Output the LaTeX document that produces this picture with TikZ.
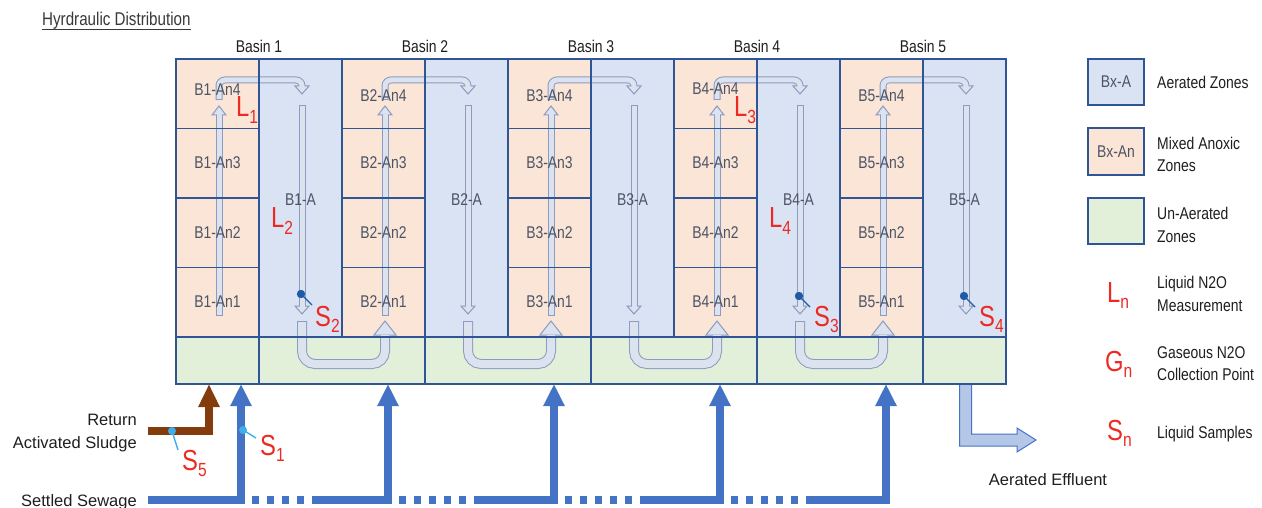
\documentclass[tikz,border=0pt]{standalone}
\usepackage{fontspec}
\setmainfont{Liberation Sans}[FakeStretch=0.82]
\newfontfamily\widesans{Liberation Sans}
\usetikzlibrary{arrows.meta}

\definecolor{anoxfill}{HTML}{FBE5D6}
\definecolor{aerfill}{HTML}{DAE3F3}
\definecolor{unaerfill}{HTML}{E2F0D9}
\definecolor{framecol}{HTML}{2F5597}
\definecolor{celltext}{HTML}{4C5466}
\definecolor{flowline}{HTML}{8A9CC2}
\definecolor{flowfill}{HTML}{DCE3EF}
\definecolor{feedblue}{HTML}{4472C4}
\definecolor{rasbrown}{HTML}{843C0C}
\definecolor{efflfill}{HTML}{B4C7E7}
\definecolor{labred}{HTML}{EC2A22}
\definecolor{probedark}{HTML}{1F5AA6}
\definecolor{probelight}{HTML}{3DAEE9}
\definecolor{inktext}{HTML}{1E1E1E}
\definecolor{titlegray}{HTML}{383838}

% sampling / measurement tag: big letter with a lowered index
\newcommand\probetag[2]{{\fontsize{29}{29}\selectfont #1}\raisebox{-6.5pt}{\fontsize{19}{19}\selectfont #2}}

\tikzset{
  zoneline/.style={draw=framecol, line width=1.8pt},
  celllab/.style={text=celltext, font=\fontsize{17}{20}\selectfont, inner sep=0pt},
  basinlab/.style={text=inktext, font=\fontsize{17}{20}\selectfont, inner sep=0pt, anchor=base},
  legtext/.style={text=inktext, font=\fontsize{17}{20}\selectfont, inner sep=0pt, anchor=base west},
  sidetext/.style={text=inktext, font=\widesans\fontsize{16.5}{20}\selectfont, inner sep=0pt},
  redtag/.style={text=labred, inner sep=0pt, anchor=base west},
  flowout/.style={draw=flowline, line width=#1, shorten <=-1pt},
  flowin/.style={draw=flowfill, line width=#1},
  flowhead/.style={fill=flowfill, draw=flowline, line width=1pt, line join=miter},
  feed/.style={draw=feedblue, line width=7.5pt},
  feedarrow/.style={feed, line join=miter, -{Triangle[width=20pt,length=22pt]}},
  rasarrow/.style={draw=rasbrown, line width=8pt, line join=miter, -{Triangle[width=20pt,length=23pt]}},
  probeline/.style={line width=1.4pt},
}

\begin{document}
\begin{tikzpicture}[x=1pt, y=-1pt, font=\fontsize{17}{20}\selectfont]
\useasboundingbox (0,0) rectangle (1262,508);

% ---------- zone fills ----------
\foreach \k in {0,...,4}{
  \pgfmathsetmacro\bx{176+166*\k}
  \fill[anoxfill] (\bx,59) rectangle (\bx+83,337);
  \fill[aerfill] (\bx+83,59) rectangle (\bx+166,337);
}
\fill[unaerfill] (176,337) rectangle (1006,384);

% ---------- internal flow path (hollow arrows) ----------
\foreach \k in {0,...,4}{
  \pgfmathsetmacro\ax{219+166*\k}
  \pgfmathsetmacro\rx{302+166*\k}
  % rise through the anoxic cells
  \draw[flowout=7pt] (\ax,315) -- (\ax,114);
  \draw[flowhead] (\ax-7,115) -- (\ax+7,115) -- (\ax,106) -- cycle;
  \draw[flowin=5pt] (\ax,315) -- (\ax,114);
  % crossover into the aerated lane
  \draw[flowout=7pt, rounded corners=6pt] (\ax,99) -- (\ax,80) -- (\rx,80) -- (\rx,87);
  \draw[flowhead] (\rx-7,86) -- (\rx+7,86) -- (\rx,94) -- cycle;
  \draw[flowin=5pt, rounded corners=6pt] (\ax,99) -- (\ax,80) -- (\rx,80) -- (\rx,87);
  % descent through the aerated lane
  \draw[flowout=7pt] (\rx,106) -- (\rx,307);
  \draw[flowhead] (\rx-7,306) -- (\rx+7,306) -- (\rx,314) -- cycle;
  \draw[flowin=5pt] (\rx,106) -- (\rx,307);
  % transfer under the wall to the next basin
  \ifnum\k<4
    \pgfmathsetmacro\nx{\ax+166}
    \draw[flowout=10pt, rounded corners=13pt] (\rx,322) -- (\rx,364) -- (\nx,364) -- (\nx,336);
    \draw[flowhead] (\nx-11,335) -- (\nx+11,335) -- (\nx,321) -- cycle;
    \draw[flowin=8pt, rounded corners=13pt] (\rx,322) -- (\rx,364) -- (\nx,364) -- (\nx,335);
  \fi
}

% ---------- effluent ----------
\draw[draw=feedblue, fill=efflfill, line width=1pt, line join=miter]
  (959.5,384) -- (959.5,446) -- (1017,446) -- (1017,452) -- (1036,440)
  -- (1017,428) -- (1017,434) -- (971.5,434) -- (971.5,384) -- cycle;

% ---------- zone borders ----------
\draw[zoneline] (176,59) rectangle (1006,384);
\draw[zoneline] (176,337) -- (1006,337);
\foreach \k in {0,...,4}{
  \pgfmathsetmacro\bx{176+166*\k}
  \draw[zoneline] (\bx+83,59) -- (\bx+83,384);
  \ifnum\k>0 \draw[zoneline] (\bx,59) -- (\bx,337); \fi
  \foreach \yy in {128.5,198,267.5} \draw[zoneline] (\bx,\yy) -- (\bx+83,\yy);
}

% ---------- zone labels ----------
\foreach \k/\yt in {0/90,1/96,2/96,3/89,4/96}{
  \pgfmathtruncatemacro\n{\k+1}
  \pgfmathsetmacro\cx{217.5+166*\k}
  \node[celllab] (anfour\n) at (\cx,\yt) {B\n-An4};
  \node[celllab] (anthree\n) at (\cx,163) {B\n-An3};
  \node[celllab] (antwo\n) at (\cx,232.5) {B\n-An2};
  \node[celllab] (anone\n) at (\cx,302) {B\n-An1};
  \node[celllab] (aer\n) at (\cx+83,200) {B\n-A};
  \node[basinlab] (basin\n) at (\cx+41.5,53) {Basin \n};
}

% ---------- title ----------
\node[text=titlegray, font=\fontsize{18.5}{22}\selectfont, anchor=base west, inner sep=0pt] (title) at (42,26) {Hyrdraulic Distribution};
\draw[titlegray, line width=0.9pt] ([yshift=-3.5pt]title.base west) -- ([yshift=-3.5pt]title.base east);

% ---------- influent lines ----------
\draw[rasarrow] (148,431) -- (209,431) -- (209,384);
\draw[feedarrow] (148,500) -- (241,500) -- (241,384);
\draw[feed, dash pattern=on 7pt off 8pt] (252,500) -- (313,500);
\foreach \k in {1,...,4}{
  \pgfmathsetmacro\fx{388+166*(\k-1)}
  \draw[feedarrow] (\fx-75,500) -- (\fx,500) -- (\fx,384);
  \ifnum\k<4 \draw[feed, dash pattern=on 7pt off 8pt] (\fx+11,500) -- (\fx+91,500); \fi
}

\node[sidetext, anchor=base east] (ret) at (137,425) {Return};
\node[sidetext, anchor=base east] (ras) at (137,448) {Activated Sludge};
\node[sidetext, anchor=base east] (sew) at (137,506) {Settled Sewage};
\node[sidetext, anchor=base] (eff) at (1048,485) {Aerated Effluent};

% ---------- probes ----------
\coordinate (ptwo) at (301,294);
\coordinate (pthree) at (799,296);
\coordinate (pfour) at (964,296);
\coordinate (pone) at (243,430);
\coordinate (pfive) at (172,431);
\foreach \p in {ptwo,pthree,pfour}{
  \fill[probedark] (\p) circle (4.2pt);
  \draw[probedark, probeline] (\p) -- ++(11,11);
}
\fill[probelight] (pone) circle (4pt);
\draw[probelight, probeline] (pone) -- ++(13,8);
\fill[probelight] (pfive) circle (4pt);
\draw[probelight, probeline] (pfive) -- ++(6,19);

% ---------- measurement tags ----------
\node[redtag] (Lone) at (236,117) {\probetag{L}{1}};
\node[redtag] (Ltwo) at (271,228) {\probetag{L}{2}};
\node[redtag] (Stwo) at (315,326) {\probetag{S}{2}};
\node[redtag] (Lthree) at (734,117) {\probetag{L}{3}};
\node[redtag] (Lfour) at (769,228) {\probetag{L}{4}};
\node[redtag] (Sthree) at (814,326) {\probetag{S}{3}};
\node[redtag] (Sfour) at (979,326) {\probetag{S}{4}};
\node[redtag] (Sone) at (260,455) {\probetag{S}{1}};
\node[redtag] (Sfive) at (182,470) {\probetag{S}{5}};

% ---------- legend ----------
\draw[zoneline, fill=aerfill] (1088,59) rectangle (1144,105);
\node[celllab] (legA) at (1116,82) {Bx-A};
\draw[zoneline, fill=anoxfill] (1088,128) rectangle (1144,175);
\node[celllab] (legAn) at (1116,151.5) {Bx-An};
\draw[zoneline, fill=unaerfill] (1088,198) rectangle (1144,244);

\node[legtext] (legAt) at (1157,89) {Aerated Zones};
\node[legtext] (legAnt) at (1157,150) {Mixed Anoxic};
\node[legtext] (legAnz) at (1157,172) {Zones};
\node[legtext] (legUt) at (1157,219) {Un-Aerated};
\node[legtext] (legUz) at (1157,242) {Zones};

\node[redtag] (legL) at (1107,302) {\probetag{L}{n}};
\node[legtext] (legLt) at (1157,288) {Liquid N2O};
\node[legtext] (legLm) at (1157,311) {Measurement};
\node[redtag] (legG) at (1105,371) {\probetag{G}{n}};
\node[legtext] (legGt) at (1157,358) {Gaseous N2O};
\node[legtext] (legGc) at (1157,380) {Collection Point};
\node[redtag] (legS) at (1107,440) {\probetag{S}{n}};
\node[legtext] (legSt) at (1157,438) {Liquid Samples};
\end{tikzpicture}
\end{document}
